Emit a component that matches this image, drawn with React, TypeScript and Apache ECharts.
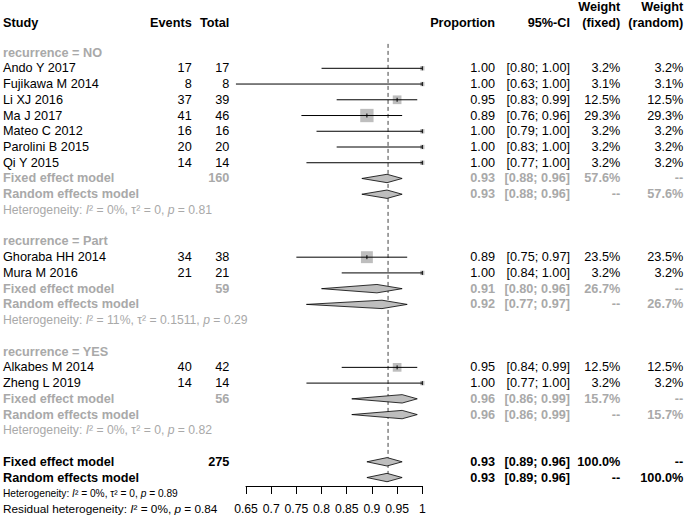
import React, { useEffect, useRef } from "react";
import * as echarts from "echarts";

// ---------- data ----------
const studies = ["Ando Y 2017", "Fujikawa M 2014", "Li XJ 2016", "Ma J 2017", "Mateo C 2012", "Parolini B 2015", "Qi Y 2015", "Ghoraba HH 2014", "Mura M 2016", "Alkabes M 2014", "Zheng L 2019"];
const studyGroup = ["NO", "NO", "NO", "NO", "NO", "NO", "NO", "Part", "Part", "YES", "YES"];
const events = [17, 8, 37, 41, 16, 20, 14, 34, 21, 40, 14];
const totals = [17, 8, 39, 46, 16, 20, 14, 38, 21, 42, 14];
const props = [1.0, 1.0, 0.95, 0.89, 1.0, 1.0, 1.0, 0.89, 1.0, 0.95, 1.0];
const lowers = [0.8, 0.63, 0.83, 0.76, 0.79, 0.83, 0.77, 0.75, 0.84, 0.84, 0.77];
const uppers = [1.0, 1.0, 0.99, 0.96, 1.0, 1.0, 1.0, 0.97, 1.0, 0.99, 1.0];
const weightFixed = [3.2, 3.1, 12.5, 29.3, 3.2, 3.2, 3.2, 23.5, 3.2, 12.5, 3.2];
const weightRandom = [3.2, 3.1, 12.5, 29.3, 3.2, 3.2, 3.2, 23.5, 3.2, 12.5, 3.2];

const groups = ["NO", "Part", "YES"];
const groupTotals = [160, 59, 56];
const groupFixedEst = [0.93, 0.91, 0.96];
const groupFixedLo = [0.88, 0.8, 0.86];
const groupFixedHi = [0.96, 0.96, 0.99];
const groupFixedW = [57.6, 26.7, 15.7];
const groupRandomEst = [0.93, 0.92, 0.96];
const groupRandomLo = [0.88, 0.77, 0.86];
const groupRandomHi = [0.96, 0.97, 0.99];
const groupRandomW = [57.6, 26.7, 15.7];
const groupI2 = ["0%", "11%", "0%"];
const groupTau2 = ["0", "0.1511", "0"];
const groupP = ["0.81", "0.29", "0.82"];

const overallTotal = 275;
const overallFixed = [0.93, 0.89, 0.96];
const overallRandom = [0.93, 0.89, 0.96];
const overallHet = { i2: "0%", tau2: "0", p: "0.89" };
const residualHet = { i2: "0%", p: "0.84" };
const refValue = 0.932;

const axisMin = 0.65;
const axisMax = 1.0;
const axisStep = 0.05;

// ---------- layout / style ----------
const FONT = '"Liberation Sans", Arial, Helvetica, sans-serif';
const FS = 12.7;
const FS_HET = 12.2;
const FS_HET_ALL = 10.2;
const FS_RESID = 11.8;
const GRAY = "#A9A9A9";
const SQ = "#BEBEBE";
const COL = { study: 3, events: 191.7, total: 229.3, prop: 495, ci: 570, wf: 620.3, wr: 683.3 };

type Cell = { text: string; col: keyof typeof COL; bold?: boolean; color?: string; size?: number; rich?: boolean };
type Row = { kind: "study" | "diamond" | "text"; cells: Cell[]; est?: number; lo?: number; hi?: number; w?: number };

const f2 = (v: number) => v.toFixed(2);
const ci = (lo: number, hi: number) => `[${f2(lo)}; ${f2(hi)}]`;
const pct = (w: number) => `${w.toFixed(1)}%`;

const rows: Row[] = [];
groups.forEach((g, gi) => {
  rows.push({ kind: "text", cells: [{ text: `recurrence = ${g}`, col: "study", bold: true, color: GRAY }] });
  studies.forEach((s, i) => {
    if (studyGroup[i] !== g) return;
    rows.push({
      kind: "study",
      est: props[i], lo: lowers[i], hi: uppers[i], w: weightFixed[i],
      cells: [
        { text: s, col: "study" },
        { text: String(events[i]), col: "events" },
        { text: String(totals[i]), col: "total" },
        { text: f2(props[i]), col: "prop" },
        { text: ci(lowers[i], uppers[i]), col: "ci" },
        { text: pct(weightFixed[i]), col: "wf" },
        { text: pct(weightRandom[i]), col: "wr" },
      ],
    });
  });
  const gs = { bold: true, color: GRAY };
  rows.push({
    kind: "diamond", est: groupFixedEst[gi], lo: groupFixedLo[gi], hi: groupFixedHi[gi],
    cells: [
      { text: "Fixed effect model", col: "study", ...gs },
      { text: String(groupTotals[gi]), col: "total", ...gs },
      { text: f2(groupFixedEst[gi]), col: "prop", ...gs },
      { text: ci(groupFixedLo[gi], groupFixedHi[gi]), col: "ci", ...gs },
      { text: pct(groupFixedW[gi]), col: "wf", ...gs },
      { text: "--", col: "wr", ...gs },
    ],
  });
  rows.push({
    kind: "diamond", est: groupRandomEst[gi], lo: groupRandomLo[gi], hi: groupRandomHi[gi],
    cells: [
      { text: "Random effects model", col: "study", ...gs },
      { text: f2(groupRandomEst[gi]), col: "prop", ...gs },
      { text: ci(groupRandomLo[gi], groupRandomHi[gi]), col: "ci", ...gs },
      { text: "--", col: "wf", ...gs },
      { text: pct(groupRandomW[gi]), col: "wr", ...gs },
    ],
  });
  rows.push({
    kind: "text",
    cells: [{ text: `Heterogeneity: {it|I}² = ${groupI2[gi]}, τ² = ${groupTau2[gi]}, {it|p} = ${groupP[gi]}`, col: "study", color: GRAY, size: FS_HET, rich: true }],
  });
  rows.push({ kind: "text", cells: [] });
});
const bs = { bold: true, color: "#000" };
rows.push({
  kind: "diamond", est: overallFixed[0], lo: overallFixed[1], hi: overallFixed[2],
  cells: [
    { text: "Fixed effect model", col: "study", ...bs },
    { text: String(overallTotal), col: "total", ...bs },
    { text: f2(overallFixed[0]), col: "prop", ...bs },
    { text: ci(overallFixed[1], overallFixed[2]), col: "ci", ...bs },
    { text: pct(100), col: "wf", ...bs },
    { text: "--", col: "wr", ...bs },
  ],
});
rows.push({
  kind: "diamond", est: overallRandom[0], lo: overallRandom[1], hi: overallRandom[2],
  cells: [
    { text: "Random effects model", col: "study", ...bs },
    { text: f2(overallRandom[0]), col: "prop", ...bs },
    { text: ci(overallRandom[1], overallRandom[2]), col: "ci", ...bs },
    { text: "--", col: "wf", ...bs },
    { text: pct(100), col: "wr", ...bs },
  ],
});
rows.push({
  kind: "text",
  cells: [{ text: `Heterogeneity: {it|I}² = ${overallHet.i2}, τ² = ${overallHet.tau2}, {it|p} = ${overallHet.p}`, col: "study", color: "#000", size: FS_HET_ALL, rich: true }],
});
rows.push({
  kind: "text",
  cells: [{ text: `Residual heterogeneity: {it|I}² = ${residualHet.i2}, {it|p} = ${residualHet.p}`, col: "study", color: "#000", size: FS_RESID, rich: true }],
});

const ROW_H = 15.74;
const ROW0_Y = 52.56;
const AXIS_Y = 486;

export default function App() {
  const ref = useRef<HTMLDivElement>(null);
  useEffect(() => {
    if (!ref.current) return;
    const chart = echarts.init(ref.current, null, { renderer: "svg" });
    const yMin = -1;
    const gridTop = ROW0_Y + yMin * ROW_H;
    const yMax = yMin + (AXIS_Y - gridTop) / ROW_H;

    const tableRender = (params: any, api: any) => {
      const r = rows[params.dataIndex];
      const y = api.coord([axisMin, api.value(1)])[1];
      const children: any[] = r.cells.map((c) => {
        const size = c.size ?? FS;
        const style: any = {
          text: c.text,
          fill: c.color ?? "#000",
          fontFamily: FONT,
          fontSize: size,
          fontWeight: c.bold ? "bold" : "normal",
          align: c.col === "study" ? "left" : "right",
          verticalAlign: "middle",
        };
        if (c.rich) {
          style.rich = { it: { fontStyle: "italic", fontSize: size, fontFamily: FONT, fill: c.color ?? "#000" } };
        }
        return { type: "text", x: COL[c.col], y, style };
      });
      return { type: "group", children };
    };

    const forestRender = (params: any, api: any) => {
      const r = rows[params.dataIndex];
      const y = api.coord([axisMin, api.value(1)])[1];
      const children: any[] = [];
      if (r.kind === "study") {
        const xe = api.coord([r.est, 0])[0];
        const xl = api.coord([r.lo, 0])[0];
        const xh = api.coord([r.hi, 0])[0];
        const s = 2.46 * Math.sqrt(r.w as number);
        children.push({ type: "rect", shape: { x: xe - s / 2, y: y - s / 2, width: s, height: s }, style: { fill: SQ } });
        children.push({ type: "line", shape: { x1: xl, y1: y, x2: xh, y2: y }, style: { stroke: "#000", lineWidth: 1 } });
        children.push({ type: "line", shape: { x1: xe, y1: y - 2, x2: xe, y2: y + 2 }, style: { stroke: "#000", lineWidth: 1 } });
      } else if (r.kind === "diamond") {
        const xe = api.coord([r.est, 0])[0];
        const xl = api.coord([r.lo, 0])[0];
        const xh = api.coord([r.hi, 0])[0];
        const h = 4.2;
        children.push({
          type: "polygon",
          shape: { points: [[xl, y], [xe, y - h], [xh, y], [xe, y + h]] },
          style: { fill: SQ, stroke: "#000", lineWidth: 0.8 },
        });
      }
      return { type: "group", children };
    };

    const refRender = (params: any, api: any) => {
      const p1 = api.coord([api.value(0), api.value(1)]);
      const p2 = api.coord([api.value(0), api.value(2)]);
      return {
        type: "line",
        shape: { x1: p1[0], y1: p1[1], x2: p2[0], y2: p2[1] },
        style: { stroke: "#444", lineWidth: 1, lineDash: [4, 3] },
      };
    };

    const hdr = (text: string, x: number, y: number, align: string) => ({
      type: "text",
      x,
      y,
      style: { text, fill: "#000", fontFamily: FONT, fontSize: FS, fontWeight: "bold", align, verticalAlign: "middle" },
    });

    chart.setOption({
      animation: false,
      backgroundColor: "#fff",
      grid: { left: 246, right: 685 - 422.3, top: gridTop, bottom: 518 - AXIS_Y, containLabel: false },
      xAxis: {
        type: "value",
        position: "bottom",
        min: axisMin,
        max: axisMax,
        interval: axisStep,
        axisLine: { show: true, onZero: false, lineStyle: { color: "#000", width: 1 } },
        axisTick: { show: true, inside: false, length: 8, lineStyle: { color: "#000", width: 1 } },
        axisLabel: { interval: 0, margin: 17, color: "#000", fontFamily: FONT, fontSize: 12.2, formatter: (v: number) => String(Math.round(v * 100) / 100) },
        splitLine: { show: false },
      },
      yAxis: { type: "value", min: yMin, max: yMax, inverse: true, show: false, splitLine: { show: false } },
      graphic: [
        hdr("Study", COL.study, 22.7, "left"),
        hdr("Events", COL.events, 22.7, "right"),
        hdr("Total", COL.total, 22.7, "right"),
        hdr("Proportion", COL.prop, 22.7, "right"),
        hdr("95%-CI", COL.ci, 22.7, "right"),
        hdr("Weight", COL.wf, 7, "right"),
        hdr("(fixed)", COL.wf, 22.7, "right"),
        hdr("Weight", COL.wr, 7, "right"),
        hdr("(random)", COL.wr, 22.7, "right"),
      ],
      series: [
        {
          type: "custom",
          name: "ref",
          clip: false,
          silent: true,
          renderItem: refRender,
          encode: { x: 0, y: 1 },
          data: [[refValue, -0.55, 27.45]],
        },
        {
          type: "custom",
          name: "forest",
          clip: false,
          silent: true,
          renderItem: forestRender,
          encode: { x: 0, y: 1 },
          data: rows.map((r, i) => [r.est ?? axisMin, i]),
        },
        {
          type: "custom",
          name: "table",
          clip: false,
          silent: true,
          renderItem: tableRender,
          encode: { x: 0, y: 1 },
          data: rows.map((_, i) => [axisMin, i]),
        },
      ],
    });
    return () => chart.dispose();
  }, []);
  return <div ref={ref} style={{ position: "fixed", left: 0, top: 0, width: 685, height: 518, background: "#fff" }} />;
}
